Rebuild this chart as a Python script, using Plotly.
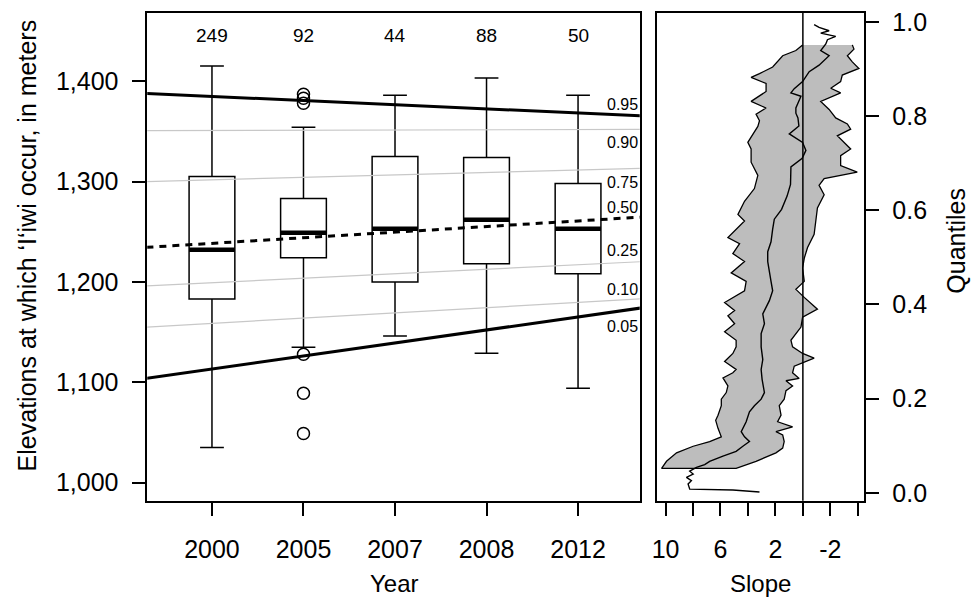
import plotly.graph_objects as go

# ---------------- data: left panel (boxplots by year) ----------------
years = ["2000", "2005", "2007", "2008", "2012"]
counts = [249, 92, 44, 88, 50]
box_q1 = [1183, 1224, 1200, 1218, 1208]
box_median = [1232, 1249, 1253, 1262, 1253]
box_q3 = [1305, 1283, 1325, 1324, 1298]
box_lower = [1035, 1135, 1146, 1129, 1094]
box_upper = [1415, 1354, 1386, 1403, 1386]
outlier_year = ["2005", "2005", "2005", "2005", "2005", "2005"]
outlier_value = [1378, 1383, 1387, 1128, 1089, 1049]

# quantile regression lines: value at first year position and change per year step
rq_tau = [0.95, 0.90, 0.75, 0.50, 0.25, 0.10, 0.05]
rq_tau_labels = ["0.95", "0.90", "0.75", "0.50", "0.25", "0.10", "0.05"]
rq_value_at_first = [1384.7, 1350.9, 1301.7, 1238.4, 1199.2, 1158.7, 1113.2]
rq_step_slope = [-4.11, 0.2, 2.42, 5.58, 4.46, 5.2, 12.97]

# ---------------- data: right panel (slope by quantile) ----------------
ci_high_q = [.951, .939, .928, .904, .890, .882, .869, .852, .831, .817, .804, .790, .778,
             .744, .730, .702, .674, .646, .619, .591, .577, .556, .542, .529, .508, .491,
             .467, .449, .429, .404, .387, .376, .359, .342, .324, .310, .296, .279, .262,
             .255, .244, .227, .213, .199, .185, .165, .154, .137, .119, .109, .099, .085,
             .067, .052]
ci_high_slope = [0.02, 0.51, 1.47, 2.20, 3.16, 3.77, 2.68, 2.68, 3.77, 2.68, 3.41, 3.16, 3.28,
                 4.01, 3.77, 3.77, 3.28, 3.53, 4.25, 4.73, 4.25, 4.97, 5.46, 4.61, 5.10, 4.25,
                 5.22, 4.13, 4.25, 5.70, 4.97, 5.46, 4.97, 5.70, 4.86, 4.86, 5.10, 5.70, 4.86,
                 5.10, 5.82, 5.46, 5.58, 5.94, 5.94, 6.18, 6.35, 6.18, 5.94, 6.79, 7.99, 9.20,
                 9.93, 10.29]
ci_low_q = [.951, .942, .928, .915, .901, .887, .873, .859, .849, .831, .814, .796, .783,
            .772, .758, .730, .716, .695, .681, .667, .653, .633, .605, .577, .549, .521,
            .498, .477, .449, .432, .415, .390, .373, .352, .324, .310, .296, .286, .276,
            .269, .255, .243, .238, .227, .217, .199, .185, .165, .151, .140, .130, .123,
            .109, .095, .085, .067, .052]
ci_low_slope = [-3.60, -3.72, -3.24, -3.60, -4.08, -2.87, -2.75, -2.03, -2.75, -1.30, -1.91,
                -2.39, -3.24, -3.48, -2.51, -3.48, -2.75, -2.75, -3.96, -1.55, -1.18, -1.55,
                -1.06, -0.94, -0.82, -0.34, -0.10, 0.02, -0.10, 0.51, -0.10, -1.06, 0.02, 0.14,
                0.87, 0.75, 0.02, -0.82, 0.02, 0.63, 0.75, 0.27, 1.23, 0.75, 1.23, 1.36, 1.72,
                1.59, 1.84, 0.75, 1.96, 1.47, 1.36, 1.47, 1.96, 3.41, 4.86]
est_q = [.994, .988, .981, .976, .969, .962, .953, .939, .928, .918, .908, .894, .880, .873,
         .858, .849, .842, .817, .806, .796, .779, .762, .744, .727, .710, .692, .655, .630,
         .602, .581, .560, .533, .512, .491, .449, .429, .408, .380, .359, .338, .310, .283,
         .262, .241, .213, .199, .185, .172, .151, .130, .119, .109, .099, .088, .078, .067,
         .060, .054, .046, .040, .033, .026, .019, .008, .006, .002]
est_slope = [-0.82, -1.18, -1.91, -1.30, -2.39, -1.79, -1.67, -1.30, -1.91, -1.55, -1.18,
             -0.46, -0.10, 0.02, 0.63, 0.87, 0.14, 0.51, 0.51, 0.36, 0.29, 0.99, 0.02, -0.22,
             0.05, 0.87, 0.90, 1.15, 1.55, 2.08, 2.20, 2.32, 2.56, 2.56, 2.32, 2.20, 2.44, 2.92,
             2.80, 3.04, 3.04, 2.92, 3.04, 2.97, 2.80, 3.04, 3.53, 3.89, 4.13, 4.49, 4.25, 3.89,
             4.37, 4.86, 5.82, 6.79, 7.15, 7.75, 8.24, 7.99, 8.48, 8.12, 8.36, 8.24, 5.10, 3.16]

slope_ticks = [10, 8, 6, 4, 2, 0, -2, -4]
slope_tick_labels = ["10", "", "6", "", "2", "", "-2", ""]
quant_ticks = [0, 0.2, 0.4, 0.6, 0.8, 1.0]
quant_tick_labels = ["0.0", "0.2", "0.4", "0.6", "0.8", "1.0"]
elev_ticks = [1000, 1100, 1200, 1300, 1400]

# ---------------- figure ----------------
FONT = "Liberation Sans, Arial, sans-serif"
pos = {y: i + 1 for i, y in enumerate(years)}
xs = [pos[y] for y in years]
BOX_W = 0.5

fig = go.Figure()

fig.add_trace(go.Box(
    x=xs, q1=box_q1, median=box_median, q3=box_q3,
    lowerfence=box_lower, upperfence=box_upper,
    width=BOX_W, whiskerwidth=0.52, boxpoints=False,
    fillcolor="white", line=dict(color="black", width=1.5),
    xaxis="x", yaxis="y", showlegend=False, hoverinfo="skip"))

# thick medians
mx, my = [], []
for x, m in zip(xs, box_median):
    mx += [x - BOX_W / 2, x + BOX_W / 2, None]
    my += [m, m, None]
fig.add_trace(go.Scatter(x=mx, y=my, mode="lines", line=dict(color="black", width=4.5),
                         xaxis="x", yaxis="y", showlegend=False, hoverinfo="skip"))

# outliers
fig.add_trace(go.Scatter(x=[pos[y] for y in outlier_year], y=outlier_value, mode="markers",
                         marker=dict(symbol="circle-open", size=12, color="black",
                                     line=dict(width=1.5)),
                         xaxis="x", yaxis="y", showlegend=False, hoverinfo="skip"))

# quantile regression lines
X0, X1 = 0.0, 6.0
for tau, b0, b1 in zip(rq_tau, rq_value_at_first, rq_step_slope):
    if tau in (0.95, 0.05):
        ln = dict(color="black", width=3)
    elif tau == 0.50:
        ln = dict(color="black", width=3, dash="7px,6px")
    else:
        ln = dict(color="#c8c8c8", width=1.2)
    fig.add_trace(go.Scatter(x=[X0, X1], y=[b0 + b1 * (X0 - 1), b0 + b1 * (X1 - 1)],
                             mode="lines", line=ln, xaxis="x", yaxis="y",
                             showlegend=False, hoverinfo="skip"))

# right panel: confidence band and estimate
band_x = ci_high_slope + ci_low_slope[::-1]
band_y = ci_high_q + ci_low_q[::-1]
fig.add_trace(go.Scatter(x=band_x, y=band_y, mode="lines", fill="toself",
                         fillcolor="#bdbdbd", line=dict(color="black", width=1.3),
                         xaxis="x2", yaxis="y2", showlegend=False, hoverinfo="skip"))
fig.add_trace(go.Scatter(x=est_slope, y=est_q, mode="lines",
                         line=dict(color="black", width=1.4),
                         xaxis="x2", yaxis="y2", showlegend=False, hoverinfo="skip"))

fig.add_shape(type="line", xref="x2", yref="y2 domain", x0=0, x1=0, y0=0, y1=1,
              line=dict(color="black", width=1.5))

# annotations
ann = []
for y, n in zip(years, counts):
    ann.append(dict(x=pos[y], y=1445, xref="x", yref="y", text=str(n), showarrow=False,
                    font=dict(size=19, color="black", family=FONT)))
label_x = 5.49
label_y = [1377, 1339, 1299, 1274, 1231, 1192, 1156]
for t, ly in zip(rq_tau_labels, label_y):
    ann.append(dict(x=label_x, y=ly, xref="x", yref="y", text=t, showarrow=False,
                    font=dict(size=16, color="black", family=FONT)))
ann.append(dict(x=392 / 974, y=1 - 589 / 600, xref="paper", yref="paper", text="Year",
                xanchor="center", yanchor="middle", showarrow=False,
                font=dict(size=24, color="black", family=FONT)))
ann.append(dict(x=759 / 974, y=1 - 589 / 600, xref="paper", yref="paper", text="Slope",
                xanchor="center", yanchor="middle", showarrow=False,
                font=dict(size=24, color="black", family=FONT)))
ann.append(dict(x=22 / 974, y=1 - 245 / 600, xref="paper", yref="paper",
                text="Elevations at which \u2018I\u2018iwi occur, in meters", textangle=-90,
                xanchor="center", yanchor="middle", showarrow=False,
                font=dict(size=25, color="black", family=FONT)))
ann.append(dict(x=956 / 974, y=1 - 240 / 600, xref="paper", yref="paper", text="Quantiles",
                textangle=-90, xanchor="center", yanchor="middle", showarrow=False,
                font=dict(size=25, color="black", family=FONT)))

axis_common = dict(showgrid=False, zeroline=False, showline=True, linecolor="black",
                   linewidth=1.5, mirror=True, ticks="outside", ticklen=14, tickwidth=1.5,
                   tickcolor="black", tickfont=dict(size=25, color="black", family=FONT))

Y_DOM = [1 - 505 / 600, 1 - 8 / 600]
fig.update_layout(
    width=974, height=600, autosize=False,
    margin=dict(l=0, r=0, t=0, b=0),
    paper_bgcolor="white", plot_bgcolor="white",
    font=dict(family=FONT, color="black"),
    showlegend=False,
    xaxis=dict(domain=[143 / 974, 638 / 974], range=[0.293, 5.674], tickvals=xs,
               ticktext=years, anchor="y", ticklabelstandoff=12, **axis_common),
    yaxis=dict(domain=Y_DOM, range=[982, 1468], tickvals=elev_ticks, tickformat=",",
               anchor="x", ticklabelstandoff=8, **axis_common),
    xaxis2=dict(domain=[655 / 974, 863 / 974], range=[10.65, -4.42], tickvals=slope_ticks,
                ticktext=slope_tick_labels, anchor="y2", ticklabelstandoff=12,
                **axis_common),
    yaxis2=dict(domain=Y_DOM, range=[-0.0167, 1.019], tickvals=quant_ticks,
                ticktext=quant_tick_labels, anchor="x2", side="right",
                ticklabelstandoff=8, **axis_common),
    annotations=ann,
)

fig.write_html("out.html")
